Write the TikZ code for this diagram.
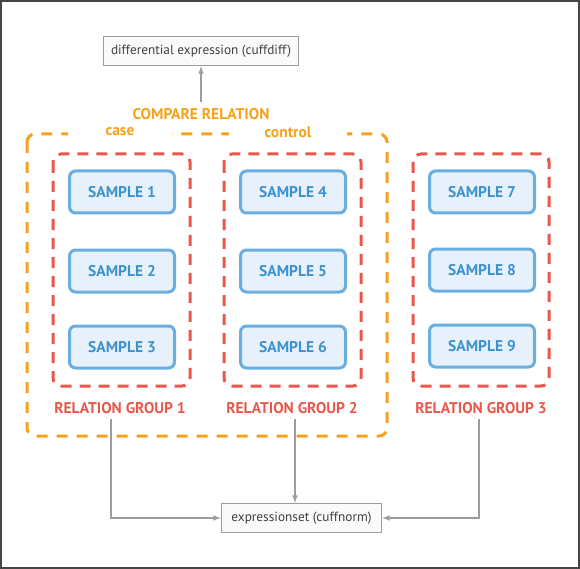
\documentclass[tikz,border=0pt]{standalone}
\usepackage{fontspec}
\setmainfont{PT Sans}
\usetikzlibrary{positioning}

\definecolor{samplefill}{HTML}{E7F1FB}
\definecolor{sampleline}{HTML}{6AAEE0}
\definecolor{sampletext}{HTML}{3A92CF}
\definecolor{groupred}{HTML}{E9574A}
\definecolor{compareorange}{HTML}{F7A11A}
\definecolor{connectgray}{HTML}{9C9C9C}
\definecolor{framegray}{HTML}{454545}

\tikzset{
  sample/.style={draw=sampleline, line width=3pt, fill=samplefill, rounded corners=6pt,
    minimum width=105pt, minimum height=42pt, text=sampletext,
    font=\bfseries\fontsize{15.5}{17}\selectfont},
  groupbox/.style={draw=groupred, line width=3pt, rounded corners=8pt,
    dash pattern=on 11pt off 8pt},
  comparebox/.style={draw=compareorange, line width=3pt, rounded corners=8pt,
    dash pattern=on 11pt off 9pt},
  grouplabel/.style={text=groupred, font=\bfseries\fontsize{15.5}{17}\selectfont},
  comparelabel/.style={text=compareorange, font=\bfseries\fontsize{15.5}{17}\selectfont},
  toolbox/.style={draw=connectgray, line width=1.5pt, fill=black!2, minimum height=29pt,
    text=black!75, font=\fontsize{13.3}{15}\selectfont},
  conn/.style={draw=connectgray, line width=1.5pt, -latex}
}

\begin{document}
\begin{tikzpicture}[x=1pt, y=-1pt]

  \useasboundingbox (0,0) rectangle (580,569);
  \draw[framegray, line width=2pt] (1,1) rectangle (579,568);

  % compare relation frame
  \draw[comparebox] (27,134) rectangle (387,436);
  \node[comparelabel] (compare) at (201,114) {COMPARE RELATION};
  \node[comparelabel, fill=white, inner xsep=38pt, inner ysep=1pt] (case) at (120,132) {case};
  \node[comparelabel, fill=white, inner xsep=36pt, inner ysep=1pt] (control) at (288,132) {control};

  % relation groups
  \draw[groupbox] (53,154) rectangle (190,386);
  \draw[groupbox] (224,154) rectangle (361,386);
  \draw[groupbox] (413,154) rectangle (549,386);

  \node[sample] (s1) at (122,192) {SAMPLE 1};
  \node[sample] (s2) at (122,271) {SAMPLE 2};
  \node[sample] (s3) at (122,347) {SAMPLE 3};
  \node[sample] (s4) at (293,192) {SAMPLE 4};
  \node[sample] (s5) at (293,271) {SAMPLE 5};
  \node[sample] (s6) at (293,347) {SAMPLE 6};
  \node[sample] (s7) at (482,192) {SAMPLE 7};
  \node[sample] (s8) at (482,270) {SAMPLE 8};
  \node[sample] (s9) at (482,346) {SAMPLE 9};

  \node[grouplabel] (g1) at (120,408) {RELATION GROUP 1};
  \node[grouplabel] (g2) at (292,408) {RELATION GROUP 2};
  \node[grouplabel] (g3) at (481,408) {RELATION GROUP 3};

  % tools
  \node[toolbox, minimum width=195pt] (cuffdiff) at (201,51) {differential expression (cuffdiff)};
  \node[toolbox, minimum width=160pt] (cuffnorm) at (301.5,518) {expressionset (cuffnorm)};

  \draw[conn, shorten <=3pt] (compare.north) -- (cuffdiff.south);
  \draw[conn, shorten <=2pt] (g1.south -| 111,0) |- (cuffnorm.west);
  \draw[conn, shorten <=2pt] (g2.south -| 295,0) -- (cuffnorm.north -| 295,0);
  \draw[conn, shorten <=2pt] (g3.south -| 479,0) |- (cuffnorm.east);
\end{tikzpicture}
\end{document}
